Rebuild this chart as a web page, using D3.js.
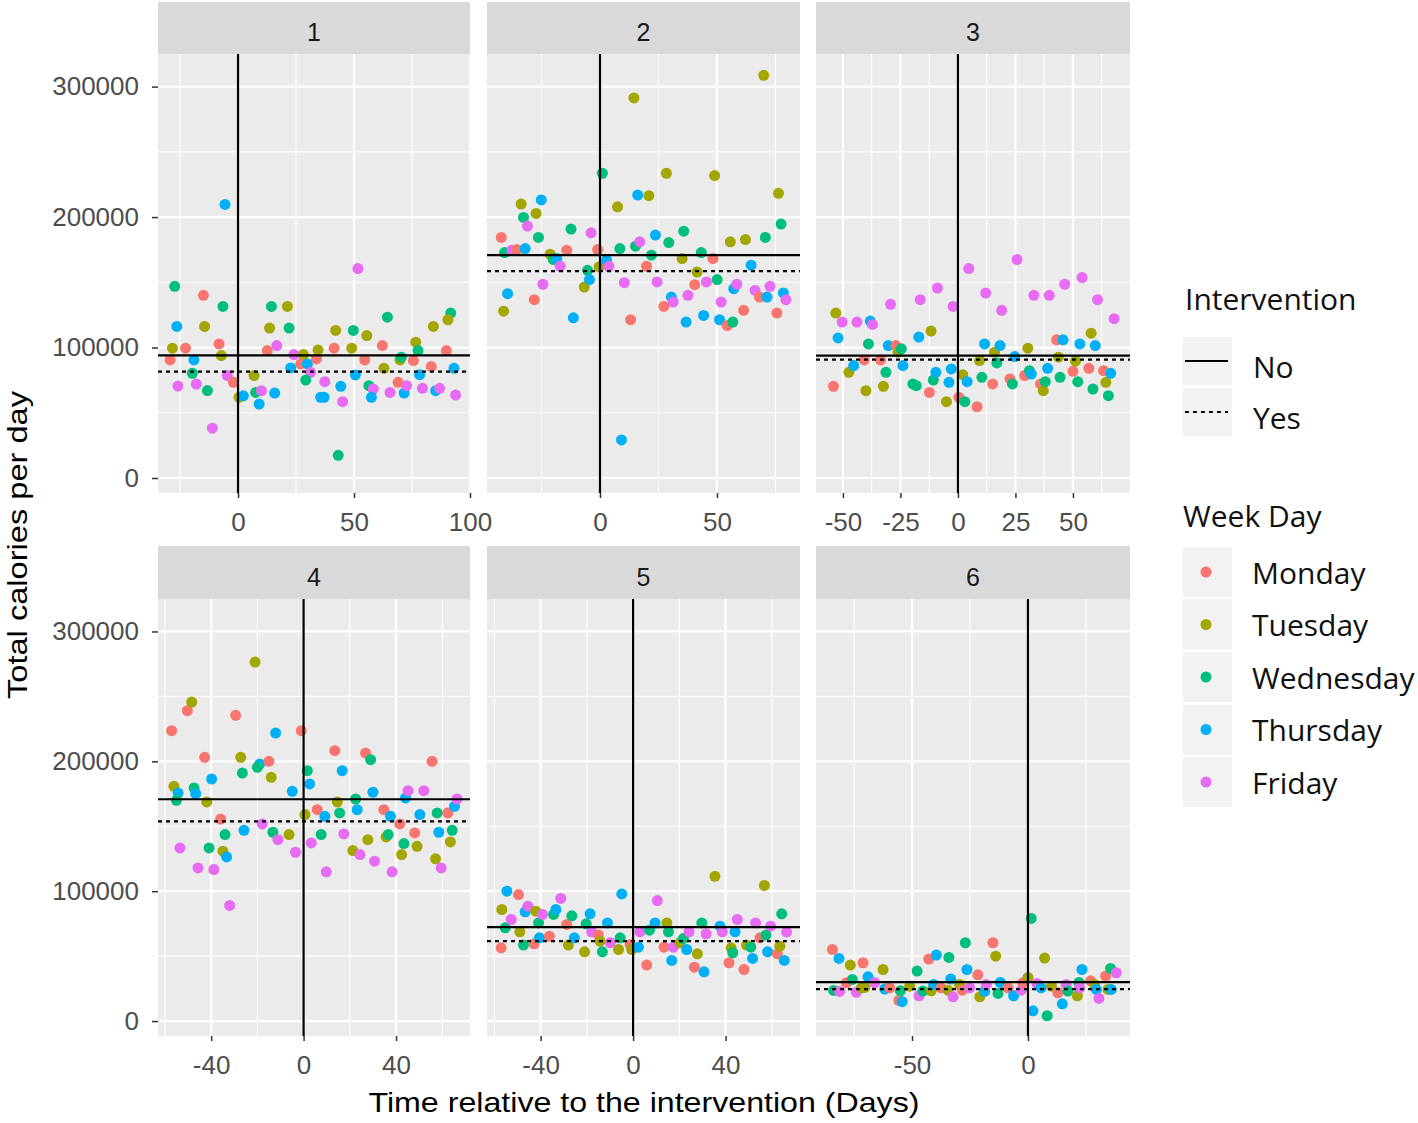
<!DOCTYPE html>
<html><head><meta charset="utf-8">
<script src="https://cdn.jsdelivr.net/npm/d3@7"></script>
<style>body{margin:0;background:#fff}</style>
</head><body>
<svg id="c" width="1418" height="1123"></svg>
<script>
// ---------------- DATA ----------------
const facets = ["1","2","3","4","5","6"];
const days = ["Monday","Tuesday","Wednesday","Thursday","Friday"];
const dayColors = ["#F8766D","#A3A500","#00BF7D","#00B0F6","#E76BF3"];
const interventionLevels = ["No","Yes"];
const yTicks = [0,100000,200000,300000];
const yLimits = [-11500, 325000];
const xLimits = [[-34.5,100],[-48.3,85.5],[-61.7,74.8],[-63,72],[-63.2,72.2],[-91.4,44]];
const xTicks = [[0,50,100],[0,50],[-50,-25,0,25,50],[-40,0,40],[-40,0,40],[-50,0]];
// mean lines: before (No) and after (Yes) the intervention
const meanNo  = [94000,170800,93800,170800,72300,30000];
const meanYes = [81500,158500,90800,153800,61500,24600];

// points: [day relative to intervention, total calories, weekday index]
const p1 = [
[-27.3,146900,2],[-26.4,116200,3],[-28.3,99500,1],[-29.3,90500,0],[-25.9,70500,4],
[-22.6,99500,0],[-14.9,140000,0],[-14.4,116200,1],[-19.0,90500,3],[-19.7,80300,2],[-18.0,72000,4],[-13.2,67000,2],[-11.1,38200,4],
[-5.6,209700,3],[-6.5,131500,2],[-8.2,102800,0],[-7.2,93800,1],[-4.6,78500,4],[-2.0,73300,0],
[0.4,61800,1],[2.3,63000,3],[6.9,78500,1],[7.6,65600,2],[9.1,56700,3],[10.1,66900,4],
[15.8,65100,3],[14.4,131500,2],[13.6,114900,1],[12.6,97700,0],[16.7,101500,4],
[21.3,131500,1],[22.0,114900,2],[22.7,84400,3],[24.1,94600,4],
[28.2,94600,1],[27.0,87400,0],[29.9,87400,3],[31.3,81000,4],[29.2,75100,2],
[34.5,98200,1],[33.8,91300,0],[35.6,61800,3],[37.1,61800,3],[37.4,73800,4],
[42.1,113100,1],[41.4,99500,0],[43.2,17400,2],[44.3,70300,3],[45.1,58500,4],
[49.7,113100,2],[49.0,99500,1],[50.6,79000,3],[51.7,160500,4],
[55.5,109200,1],[54.6,90500,0],[56.4,70800,2],[58.3,68200,4],[57.5,61800,3],
[62.2,101500,0],[64.4,123300,2],[62.9,84100,1],[65.5,65600,4],
[69.0,73300,0],[69.8,90500,1],[70.4,92600,2],[71.6,65100,3],[72.7,70800,4],
[76.6,104100,1],[75.6,90000,0],[77.6,97700,2],[78.3,79200,3],[79.5,68700,4],
[84.2,116200,1],[83.3,85400,0],[85.2,66900,3],[86.9,68700,4],
[91.7,126400,2],[90.5,121300,1],[89.8,97700,0],[93.1,84100,3],[93.8,63600,4]
];
const p2 = [
[-42.2,184400,0],[-41.2,127900,1],[-39.5,141300,3],[-40.8,172800,2],[-37.6,174600,4],
[-35.5,175100,0],[-33.7,210000,1],[-32.7,199700,2],[-31.0,193100,4],[-32.0,175900,3],
[-27.3,202800,1],[-25.1,213100,3],[-26.3,184400,2],[-24.4,148500,4],[-28.1,136700,0],
[-21.3,171500,1],[-19.9,167400,2],[-18.5,168200,3],[-17.0,162300,4],
[-12.4,190800,2],[-14.2,174600,0],[-11.4,122800,3],
[-3.8,187900,4],[-1.0,175100,0],[-6.7,146400,1],[-5.3,159200,2],[-4.5,152100,3],
[-0.4,161800,1],[1.0,233600,2],[2.8,166900,3],[3.8,162300,4],
[7.5,207900,1],[8.5,175900,2],[9.2,29200,3],[10.4,149700,4],
[13.1,121300,0],[14.5,291300,1],[15.2,177700,2],[16.1,216900,3],[17.0,181000,4],
[20.9,216400,1],[19.9,162300,0],[22.0,170800,2],[23.7,186200,3],[24.4,150300,4],
[28.4,233600,1],[29.4,180500,2],[27.3,131500,0],[30.5,138700,3],[31.3,134900,4],
[35.1,168200,1],[35.8,189200,2],[37.6,140000,4],[36.8,119500,3],
[40.5,148200,0],[41.5,157900,1],[43.3,172800,2],[44.3,124600,3],[45.5,150300,4],
[49.0,231800,1],[48.3,168200,0],[50.1,152100,2],[51.1,121300,3],[51.8,134900,4],
[54.4,116900,0],[56.8,119500,2],[57.2,145100,3],[58.5,148500,4],[55.7,181000,1],
[61.4,128500,0],[62.2,182800,1],[64.6,163100,3],[66.3,143800,4],
[68.2,138700,0],[70.0,308700,1],[70.7,184400,2],[71.4,138700,3],[72.7,146900,4],
[75.6,126400,0],[76.3,218200,1],[77.4,194600,2],[78.4,141800,3],[79.5,136700,4]
];
const p3 = [
[-53.1,126400,1],[-50.3,119500,4],[-52.1,107400,3],[-54.1,70300,0],
[-47.4,81000,1],[-45.3,86200,3],[-43.9,119500,4],
[-40.7,90500,0],[-40.0,66900,1],[-38.9,102800,2],[-38.1,120300,3],[-37.1,117700,4],
[-33.6,90500,0],[-32.4,70300,1],[-31.3,81000,2],[-30.3,101500,3],[-29.3,133100,4],
[-27.0,101500,0],[-26.0,96400,1],[-24.6,99000,2],[-23.9,86200,3],
[-19.6,72100,2],[-18.1,70800,2],[-17.0,108000,3],[-16.4,136700,4],
[-12.4,65600,0],[-11.7,112600,1],[-10.7,75100,2],[-9.6,81000,3],[-8.9,145600,4],
[-5.0,58500,1],[-3.9,73300,3],[-2.9,83600,3],[-2.1,131500,4],
[0.4,61800,0],[2.1,79200,1],[3.0,58500,2],[4.0,73800,3],[4.7,160500,4],
[8.3,54600,0],[9.4,90000,1],[10.4,77200,2],[11.6,102800,3],[12.1,141800,4],
[15.1,72100,0],[15.9,96400,1],[16.9,88200,2],[18.3,101500,3],[19.0,128500,4],
[22.6,75900,0],[23.7,72100,2],[24.7,93100,3],[25.7,167400,4],
[29.0,78500,0],[30.4,99500,1],[31.1,82300,2],[31.9,79700,3],[33.0,140000,4],
[35.9,72100,0],[37.1,66900,1],[38.0,73800,2],[39.0,84100,3],[39.7,140000,4],
[42.9,105900,0],[43.7,92600,1],[44.4,77200,2],[45.7,105900,3],[46.4,148500,4],
[50.0,81800,0],[51.1,89500,1],[52.1,73800,2],[53.0,102800,3],[54.0,153600,4],
[56.9,84100,0],[57.9,111000,1],[58.7,68200,2],[59.7,101500,3],[60.7,136700,4],
[63.3,82300,0],[64.3,73300,1],[65.4,63100,2],[66.4,80300,3],[67.9,122100,4]
];
const p4 = [
[-57.1,223600,0],[-56.1,180800,1],[-54.3,175600,3],[-55.0,170000,2],[-53.5,133300,4],
[-50.3,239000,0],[-48.4,245600,1],[-47.4,179500,2],[-46.7,175100,3],[-45.7,117900,4],
[-41.9,168700,1],[-42.8,203100,0],[-39.8,186400,3],[-40.9,133300,2],[-38.8,116700,4],
[-35.9,155600,0],[-34.9,130800,1],[-34.0,143600,2],[-33.3,126400,3],[-32.0,89000,4],
[-29.4,235400,0],[-27.2,203100,1],[-26.5,191000,2],[-25.8,146900,3],
[-21.0,276400,1],[-19.0,197900,3],[-20.0,195400,2],[-17.9,151800,4],
[-15.0,200000,0],[-14.0,187700,1],[-13.3,145400,2],[-12.1,221800,3],[-11.1,139700,4],
[-6.3,143600,1],[-4.9,176900,3],[-3.5,130000,4],
[-1.0,223600,0],[0.6,159000,1],[1.6,192800,2],[2.6,182600,3],[3.3,137200,4],
[5.9,162800,0],[7.6,143600,2],[9.2,157700,3],[9.8,114900,4],
[13.5,208200,0],[14.6,168700,1],[15.6,160300,2],[16.7,192800,3],[17.4,144100,4],
[21.3,131300,1],[22.5,171000,2],[23.2,162800,3],[24.4,128200,4],
[26.8,206400,0],[29.0,201300,2],[27.8,139700,1],[30.0,176200,3],[30.7,123100,4],
[34.7,162800,0],[35.7,141800,1],[36.6,143600,2],[37.6,157700,3],[38.3,114900,4],
[41.6,151800,0],[42.4,128200,1],[43.4,136700,2],[44.1,171800,3],[45.2,177400,4],
[48.1,144900,0],[49.1,134600,1],[50.3,159000,3],[52.0,177400,4],
[55.6,200000,0],[57.1,124900,1],[57.8,160300,2],[58.5,145400,3],[59.5,117900,4],
[62.4,160300,0],[63.5,137900,1],[64.3,146900,2],[65.3,165400,3],[66.4,171000,4]
];
const p5 = [
[-54.6,100000,3],[-56.8,85900,1],[-55.3,71800,2],[-57.1,56400,0],[-52.7,78200,4],
[-49.6,97400,0],[-49.0,68700,1],[-47.4,58500,2],[-46.7,84100,3],[-45.5,88500,4],
[-42.8,59500,0],[-42.1,84600,1],[-40.9,75600,2],[-40.5,64100,3],[-39.2,82100,4],
[-36.2,65400,0],[-34.4,82100,2],[-33.4,85900,3],[-31.3,94400,4],
[-28.7,74400,0],[-28.0,58500,1],[-26.5,81000,2],[-25.4,64100,3],
[-21.0,53300,1],[-20.3,74900,2],[-18.6,82600,3],[-17.9,68700,4],
[-15.0,66200,0],[-14.3,61500,1],[-13.3,53300,2],[-11.1,75600,3],[-9.9,60300,4],
[-6.3,55100,1],[-5.6,64100,2],[-4.9,97900,3],
[-1.3,59000,0],[-0.6,55100,1],[2.3,56900,3],[3.0,68700,4],
[5.9,43100,0],[7.1,70000,2],[9.5,75600,3],[10.5,92800,4],
[13.4,56900,0],[14.6,75600,1],[15.3,68700,2],[16.7,46700,3],[17.4,56900,4],
[20.3,60300,1],[21.8,63600,2],[23.2,55100,3],[24.2,68700,4],
[26.5,41500,0],[27.8,51800,1],[29.7,75600,2],[30.7,37900,3],[31.6,67200,4],
[35.4,111500,1],[37.6,73100,3],[38.6,68700,4],
[41.5,44900,0],[42.4,56400,1],[43.1,52600,2],[44.1,68700,3],[45.1,78200,4],
[48.0,39700,0],[49.1,58500,1],[50.9,56900,2],[51.7,48200,3],[53.0,75600,4],
[54.9,64100,0],[56.8,104400,1],[57.5,66200,2],[58.2,53300,3],[59.5,73100,4],
[62.4,51800,0],[63.5,57700,1],[64.3,82600,2],[65.4,46700,3],[66.4,68500,4]
];
const p6 = [
[-84.3,55100,0],[-81.5,48200,3],[-83.8,23600,2],[-81.2,22800,4],[-78.3,29500,0],
[-76.6,43100,1],[-75.7,32100,2],[-74.0,22100,4],[-71.8,25600,1],
[-71.1,44900,0],[-69.0,34100,3],[-70.4,25900,1],[-66.1,29500,4],
[-62.5,39700,1],[-61.8,24600,3],[-59.6,25600,0],
[-55.7,15900,0],[-55.0,23300,2],[-54.2,14900,3],[-51.0,26900,1],
[-47.8,38500,2],[-47.0,19500,4],[-45.3,23100,2],
[-42.8,47700,0],[-41.7,23300,1],[-40.7,28200,3],[-39.5,50800,3],[-37.4,25600,0],
[-34.1,49000,2],[-34.5,23800,1],[-33.3,32300,3],[-32.3,18700,4],
[-29.5,28200,1],[-28.3,23800,0],[-27.0,60300,2],[-26.3,39700,3],[-25.1,25600,4],
[-21.6,35600,0],[-20.8,18700,1],[-18.7,22800,3],[-18.0,28200,4],
[-15.1,60300,0],[-13.9,50000,1],[-12.9,21300,2],[-11.9,29700,3],
[-8.6,25600,0],[-6.2,19500,3],[-2.9,23800,4],[-2.2,29500,0],
[0.0,33600,1],[1.4,79000,2],[2.2,7900,3],[3.9,29000,4],
[5.7,25600,3],[7.2,48500,1],[8.3,4100,2],[10.1,26900,1],
[12.9,21800,0],[14.8,13300,3],[16.5,28200,4],[17.2,23100,2],
[21.3,19500,1],[22.0,29700,2],[22.3,25600,4],[23.3,39700,3],
[27.0,31000,0],[28.7,28200,1],[29.5,24400,3],[30.6,17400,4],
[33.5,34600,0],[34.5,24400,1],[35.6,40500,2],[35.9,24400,3],[38.1,37200,4]
];
const panelPoints = [p1,p2,p3,p4,p5,p6];

// ---------------- RENDER ----------------
const svg = d3.select("#c");
const cols = [[158,470],[487,800],[816,1130]];
const rows = [{top:54,bottom:493,stripTop:2},{top:599,bottom:1036,stripTop:546}];
const color = d3.scaleOrdinal().domain(d3.range(days.length)).range(dayColors);
const tickFont = "Liberation Sans, Arial, sans-serif";
const fmt = d => String(d);

function minorBreaks(majors, dom){
  const step = majors.length>1 ? majors[1]-majors[0] : 50;
  const ext = [majors[0]-step, ...majors, majors[majors.length-1]+step];
  const out = [];
  for(let k=0;k<ext.length-1;k++){
    const m=(ext[k]+ext[k+1])/2;
    if(m>=dom[0] && m<=dom[1]) out.push(m);
  }
  return out;
}

facets.forEach((f,i)=>{
  const col = cols[i%3], row = rows[Math.floor(i/3)];
  const x = d3.scaleLinear().domain(xLimits[i]).range(col);
  const y = d3.scaleLinear().domain(yLimits).range([row.bottom,row.top]);
  const g = svg.append("g");
  const W = col[1]-col[0];

  // strip
  g.append("rect").attr("x",col[0]).attr("y",row.stripTop).attr("width",W)
    .attr("height",row.top-row.stripTop).attr("fill","#D9D9D9");
  g.append("text").attr("x",(col[0]+col[1])/2).attr("y",(row.stripTop+row.top)/2+4)
    .attr("text-anchor","middle").attr("dominant-baseline","central")
    .attr("font-family",tickFont).attr("font-size",25).attr("fill","#1A1A1A").text(f);

  // panel background
  g.append("rect").attr("x",col[0]).attr("y",row.top).attr("width",W)
    .attr("height",row.bottom-row.top).attr("fill","#EBEBEB");

  // minor grid
  const xm = minorBreaks(xTicks[i], xLimits[i]);
  const ym = minorBreaks(yTicks, yLimits);
  g.selectAll(".xm").data(xm).join("line")
    .attr("x1",d=>x(d)).attr("x2",d=>x(d)).attr("y1",row.top).attr("y2",row.bottom)
    .attr("stroke","#fff").attr("stroke-width",1.1);
  g.selectAll(".ym").data(ym).join("line")
    .attr("x1",col[0]).attr("x2",col[1]).attr("y1",d=>y(d)).attr("y2",d=>y(d))
    .attr("stroke","#fff").attr("stroke-width",1.1);
  // major grid
  g.selectAll(".xM").data(xTicks[i]).join("line")
    .attr("x1",d=>x(d)).attr("x2",d=>x(d)).attr("y1",row.top).attr("y2",row.bottom)
    .attr("stroke","#fff").attr("stroke-width",2.2);
  g.selectAll(".yM").data(yTicks).join("line")
    .attr("x1",col[0]).attr("x2",col[1]).attr("y1",d=>y(d)).attr("y2",d=>y(d))
    .attr("stroke","#fff").attr("stroke-width",2.2);

  // points
  g.append("g").selectAll("circle").data(panelPoints[i]).join("circle")
    .attr("cx",d=>x(d[0])).attr("cy",d=>y(d[1])).attr("r",5.5)
    .attr("fill",d=>color(d[2]));

  // mean lines
  g.append("line").attr("x1",col[0]).attr("x2",col[1])
    .attr("y1",y(meanNo[i])).attr("y2",y(meanNo[i]))
    .attr("stroke","#000").attr("stroke-width",2.2);
  g.append("line").attr("x1",col[0]).attr("x2",col[1])
    .attr("y1",y(meanYes[i])).attr("y2",y(meanYes[i]))
    .attr("stroke","#000").attr("stroke-width",2.2).attr("stroke-dasharray","4,4");
  // intervention line
  g.append("line").attr("x1",x(0)).attr("x2",x(0)).attr("y1",row.top).attr("y2",row.bottom)
    .attr("stroke","#000").attr("stroke-width",2.2);

  // x axis
  const ax = g.append("g").attr("transform",`translate(0,${row.bottom})`)
    .call(d3.axisBottom(x).tickValues(xTicks[i]).tickSize(5).tickPadding(15).tickFormat(fmt));
  ax.select(".domain").remove();
  ax.selectAll(".tick line").attr("stroke","#333").attr("stroke-width",1.5);
  ax.selectAll(".tick text").attr("font-family",tickFont).attr("font-size",26).attr("fill","#4D4D4D");

  if(i%3===0){
    const ay = g.append("g").attr("transform",`translate(${col[0]},0)`)
      .call(d3.axisLeft(y).tickValues(yTicks).tickSize(6).tickPadding(13).tickFormat(fmt));
    ay.select(".domain").remove();
    ay.selectAll(".tick line").attr("stroke","#333").attr("stroke-width",1.5);
    ay.selectAll(".tick text").attr("font-family",tickFont).attr("font-size",26).attr("fill","#4D4D4D");
  }
});

// axis titles
svg.append("text").attr("x",644).attr("y",1112).attr("text-anchor","middle")
  .attr("font-family",tickFont).attr("font-size",28).attr("fill","#000")
  .attr("textLength",551).attr("lengthAdjust","spacingAndGlyphs")
  .text("Time relative to the intervention (Days)");
svg.append("text").attr("transform","translate(27,545) rotate(-90)").attr("text-anchor","middle")
  .attr("font-family",tickFont).attr("font-size",28).attr("fill","#000")
  .attr("textLength",308).attr("lengthAdjust","spacingAndGlyphs")
  .text("Total calories per day");

// legends
const legFont = "Open Sans, Noto Sans, sans-serif";
const leg = svg.append("g");
leg.append("text").attr("x",1185).attr("y",310).attr("font-family",legFont)
  .attr("font-size",30).attr("fill","#111").text("Intervention");
const lineKeys = [{c:361, dash:null},{c:412, dash:"4,4"}];
interventionLevels.forEach((lv,k)=>{
  const c = lineKeys[k].c;
  leg.append("rect").attr("x",1183).attr("y",c-24).attr("width",49).attr("height",48).attr("fill","#F2F2F2");
  const ln = leg.append("line").attr("x1",1185).attr("x2",1228).attr("y1",c).attr("y2",c)
    .attr("stroke","#000").attr("stroke-width",2);
  if(lineKeys[k].dash) ln.attr("stroke-dasharray",lineKeys[k].dash);
  leg.append("text").attr("x",1253).attr("y",c+5).attr("dominant-baseline","central")
    .attr("font-family",legFont).attr("font-size",30).attr("fill","#111").text(lv);
});
leg.append("text").attr("x",1183).attr("y",527).attr("font-family",legFont)
  .attr("font-size",30).attr("fill","#111").text("Week Day");
const dayY = d3.scalePoint().domain(days).range([572,782]);
days.forEach((d,k)=>{
  const c = dayY(d);
  leg.append("rect").attr("x",1183).attr("y",c-25).attr("width",49).attr("height",50).attr("fill","#F2F2F2");
  leg.append("circle").attr("cx",1206).attr("cy",c).attr("r",5.5).attr("fill",color(k));
  leg.append("text").attr("x",1252).attr("y",c).attr("dominant-baseline","central")
    .attr("font-family",legFont).attr("font-size",30).attr("fill","#111").text(d);
});
</script>
</body></html>
